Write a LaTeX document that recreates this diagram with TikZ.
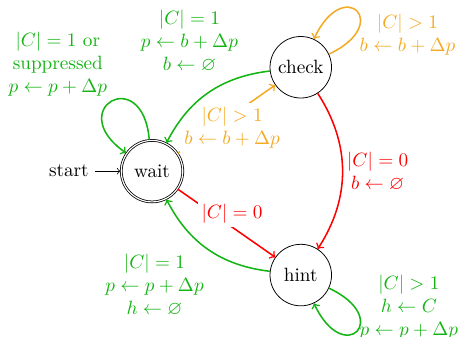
\documentclass[tikz,border=0pt]{standalone}
\usepackage{amsmath,amssymb}
\usetikzlibrary{automata,positioning}

\definecolor{okgreen}{RGB}{20,180,20}
\definecolor{manyorange}{RGB}{245,170,35}
\definecolor{nonered}{RGB}{255,0,0}

\begin{document}
\begin{tikzpicture}[
  node distance=1.9cm and 2.72cm, on grid,
  every state/.style={draw=black, minimum size=32pt, inner sep=0pt},
  oneedge/.style={->, thick, okgreen},
  manyedge/.style={->, thick, manyorange},
  noneedge/.style={->, thick, nonered},
  rulelabel/.style={align=center, inner sep=2pt},
  >=to
]
  \useasboundingbox (-2.78,-3.03) rectangle (5.65,3.13);
  \node[state, initial, accepting] (wait) at (0,0) {wait};
  \node[state, above right=of wait] (check) {check};
  \node[state, below right=of wait] (hint) {hint};

  \draw[manyedge] (wait) -- node[rulelabel, fill=white, xshift=1mm, yshift=-1.5mm] {$|C| > 1$\\ $b \gets b + \Delta p$} (check);
  \draw[noneedge] (wait) -- node[rulelabel, fill=white, xshift=1mm, yshift=1.8mm] {$|C| = 0$} (hint);
  \draw[noneedge] (check) to[bend left=33] node[rulelabel, right] {$|C| = 0$\\ $b \gets \varnothing$} (hint);
  \draw[manyedge] (check) to[out=25, in=65, min distance=13mm] node[rulelabel, pos=0.2, right] {$|C| > 1$\\ $b \gets b + \Delta p$} (check);
  \draw[oneedge] (check) to[bend right=28] node[rulelabel, pos=0.2, above left] {$|C| = 1$\\ $p \gets b + \Delta p$\\ $b \gets \varnothing$} (wait);
  \draw[oneedge] (hint) to[bend left=28] node[rulelabel, below left] {$|C| = 1$\\ $p \gets p + \Delta p$\\ $h \gets \varnothing$} (wait);
  \draw[oneedge] (hint) to[out=-25, in=-65, min distance=13mm] node[rulelabel, pos=0.2, right] {$|C| > 1$\\ $h \gets C$\\ $p \gets p + \Delta p$} (hint);
  \draw[oneedge] (wait) to[out=95, in=145, min distance=14mm] node[rulelabel, above left] {$|C| = 1$ or\\ suppressed\\ $p \gets p + \Delta p$} (wait);
\end{tikzpicture}
\end{document}
